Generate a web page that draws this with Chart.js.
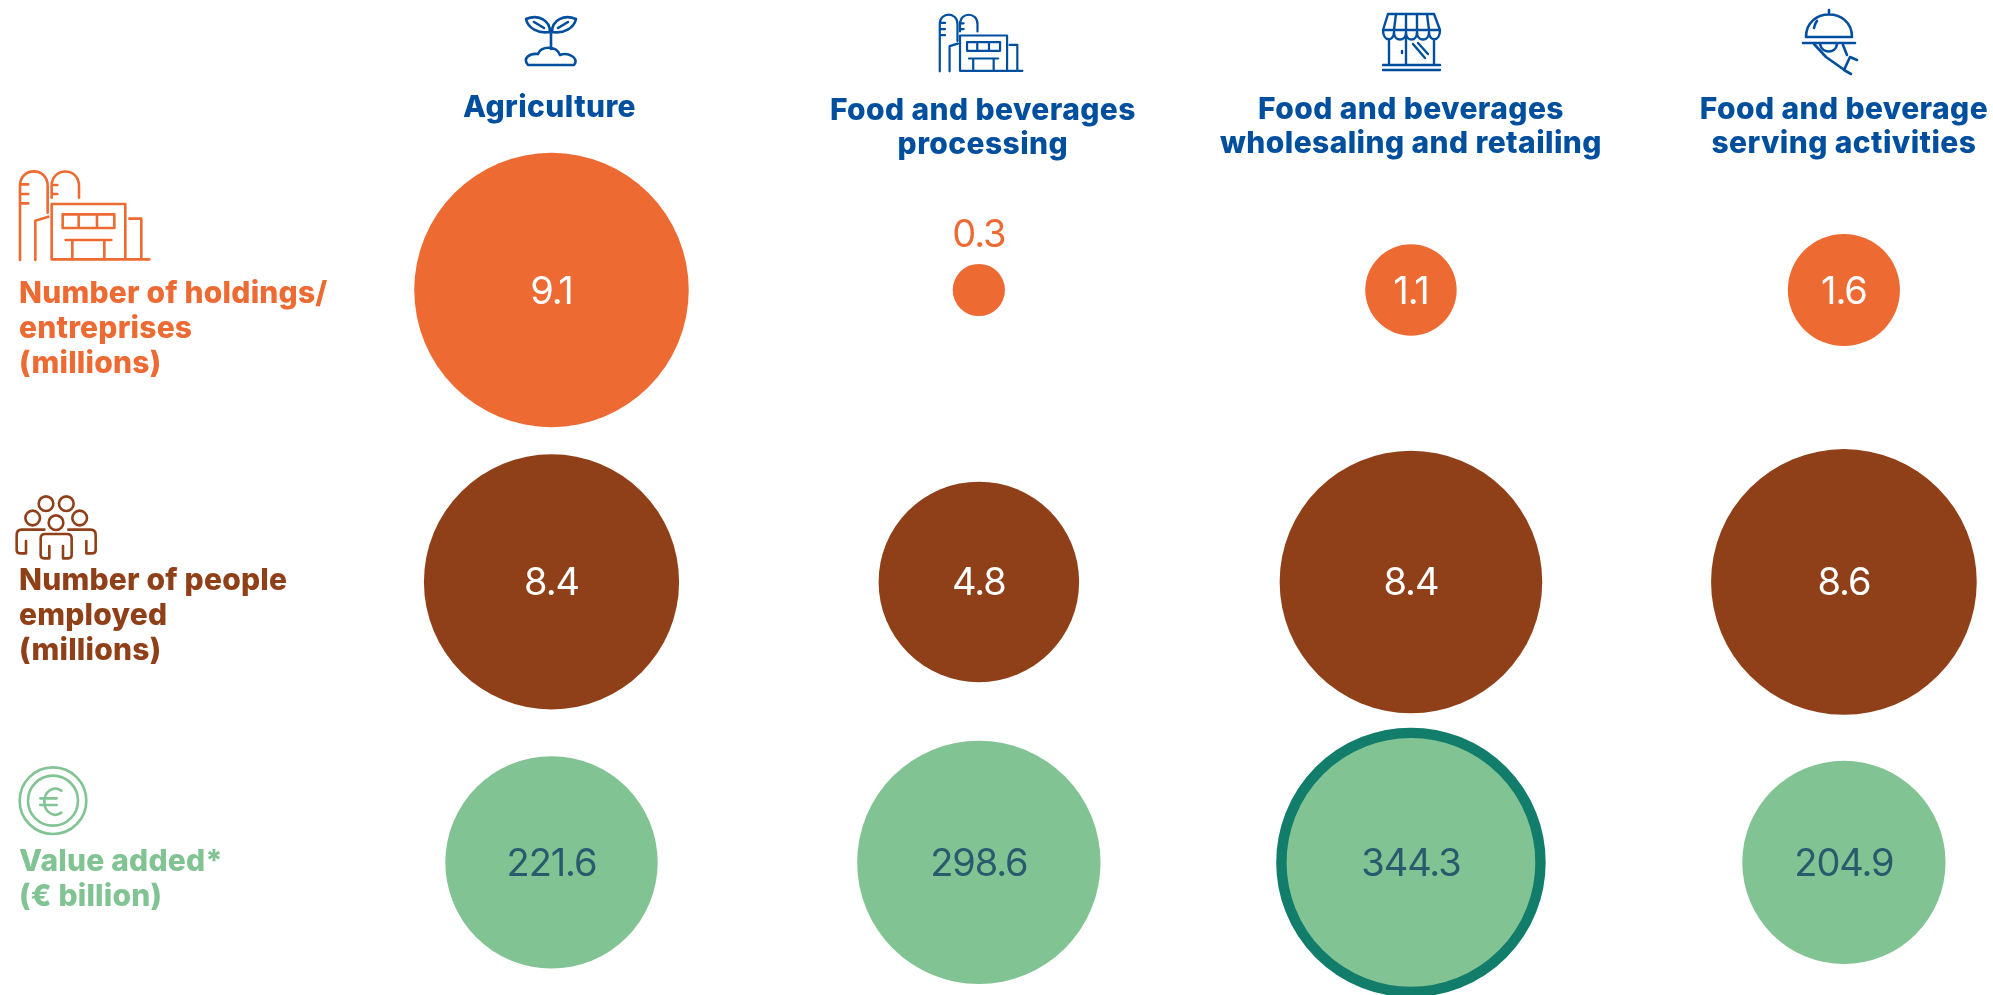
<!DOCTYPE html>
<html><head><meta charset="utf-8">
<style>html,body{margin:0;padding:0;background:#fff;overflow:hidden}canvas{display:block}</style>
<script src="https://cdn.jsdelivr.net/npm/chart.js@4"></script>
</head><body><canvas id="c" width="1993" height="995"></canvas>
<script>
// ---- data ----
const sectors = ["Agriculture","Food and beverages processing","Food and beverages wholesaling and retailing","Food and beverage serving activities"];
const sectorLines = [["Agriculture"],["Food and beverages","processing"],["Food and beverages","wholesaling and retailing"],["Food and beverage","serving activities"]];
const metrics = ["Number of holdings/entreprises (millions)","Number of people employed (millions)","Value added* (€ billion)"];
const metricLines = [["Number of holdings/","entreprises","(millions)"],["Number of people","employed","(millions)"],["Value added*","(€ billion)"]];
const holdings = [9.1,0.3,1.1,1.6];
const employed = [8.4,4.8,8.4,8.6];
const valueAdded = [221.6,298.6,344.3,204.9];
const series = [holdings,employed,valueAdded];
const highlighted = {row:2,col:2};

// ---- presentation ----
const fillCols = ["#EE6A33","#904018","#82C393"];
const labelCols = ["#EE6A33","#904018","#82C393"];
const blue = "#004F9F", teal = "#127D6B", darkText = "#2A5A6E";
const rowPlacement = [0,1.02,2];
const colPlacement = [0,0.992,1.995,3];
const areaScale = [45.5,45.3,7.1];
const radiusNudge = [[0,1.2,-2,-1.5],[-3.7,1,0,0],[0.5,-1,-2.2,0]];
const FONT = "Inter, sans-serif";

// keep the plot area edge to edge: bubbles are placed purely by the axes
Chart.registry.getController("bubble").prototype.getMaxOverflow = () => 0;

function stroke(ctx,d,col,lw,sx,sy,ox,oy){
  ctx.save();ctx.translate(ox,oy);ctx.scale(sx,sy);
  ctx.strokeStyle=col;ctx.lineWidth=lw/sx;ctx.lineCap="round";ctx.lineJoin="round";
  ctx.stroke(new Path2D(d));ctx.restore();
}
const factoryPath="M60 330V107C60 50 143 50 143 107V188M60 103H85M60 132H85M60 160H85M155 143V108C155 50 237 50 237 108V143M155 105H172M155 132H172M106 330V212L145 200M155 328V162H376V328M155 328H448M188 193H343V234H188ZM236 193V234M291 193V234M197 270H334M217 270V328M313 270V328M388 206H424V328";
const peoplePath="M160 101a22 22 0 1 0-44 0a22 22 0 1 0 44 0M221 101a22 22 0 1 0-44 0a22 22 0 1 0 44 0M120 144a22 22 0 1 0-44 0a22 22 0 1 0 44 0M261 144a22 22 0 1 0-44 0a22 22 0 1 0 44 0M190 158a22 22 0 1 0-44 0a22 22 0 1 0 44 0M133 179H65Q50 179 50 195V240Q50 250 60 250H78V213M168 192H135Q122 192 122 205V255Q122 265 132 265H148V228M168 192H201Q215 192 215 205V255Q215 265 205 265H189V228M205 179H272Q287 179 287 195V240Q287 250 277 250H259V213";
const euroPath="M259 992a100 100 0 1 0-200 0a100 100 0 1 0 200 0M234 992a75 75 0 1 0-150 0a75 75 0 1 0 150 0M184 962C160 945 133 965 133 995C133 1025 160 1045 184 1028M121 985H170M121 1005H170";
const sproutPath="M550 32C550 20 538 14 526 19C528 28 538 34 550 32ZM552 32C552 20 564 14 576 19C574 28 564 34 552 32ZM551 49V32M534 22L544 28M568 22L558 28M528 65C522 58 530 53 538 54C541 46 556 45 560 55C568 52 580 58 574 65Z";
const shopPath="M1388 14H1434L1440 30H1383ZM1383 30C1383 42 1394 42 1394 32C1394 42 1406 42 1406 32C1406 42 1417 42 1417 32C1417 42 1429 42 1429 32C1429 42 1440 42 1440 30M1396 14L1394 30M1406 14V30M1417 14V30M1427 14L1429 30M1389 40V65M1434 40V65M1406 38V65M1402 51V53M1413 44L1425 58M1418 43L1428 54M1383 65H1440M1383 70H1440";
const clochePath="M1806 37C1806 7 1852 7 1852 37ZM1829 13V10M1817 21C1815 23 1815 25 1814 28M1803 43H1855M1814 44L1826 57L1843 69M1820 44C1822 54 1836 54 1837 44M1843 45L1847 55M1857 60L1850 57L1844 70L1851 74";

const drawExtras={id:"drawExtras",afterDatasetsDraw(chart){
  const ctx=chart.ctx,xS=chart.scales.x;
  ctx.save();
  // value labels
  ctx.textBaseline="alphabetic";
  chart.data.datasets.forEach((ds,r)=>{
    chart.getDatasetMeta(r).data.forEach((el,c)=>{
      const v=series[r][c];
      ctx.font="400 38px "+FONT;ctx.letterSpacing="-1.1px";ctx.textAlign="center";
      const small=el.options.radius<30;
      ctx.fillStyle=small?fillCols[r]:(r===2?darkText:"#fff");
      ctx.fillText(v.toFixed(1),el.x,small?el.y-43:el.y+13.5);
    });
  });
  // column headers
  const headerNudge=[-2,4,0,0], headerBase=[[117],[120,154],[119,153],[119,153]];
  ctx.fillStyle=blue;ctx.font="800 30px "+FONT;ctx.letterSpacing="0.4px";ctx.textAlign="center";
  sectorLines.forEach((lines,c)=>{
    const x=xS.getPixelForValue(colPlacement[c])+headerNudge[c];
    lines.forEach((t,i)=>ctx.fillText(t,x,headerBase[c][i]));
  });
  // row headers
  const rowBase=[[303,337.5,373],[590,625,660],[871,906]];
  ctx.textAlign="left";ctx.letterSpacing="0.2px";
  metricLines.forEach((lines,r)=>{
    ctx.fillStyle=labelCols[r];
    lines.forEach((t,i)=>ctx.fillText(t,19,rowBase[r][i]));
  });
  ctx.restore();
  // icons
  stroke(ctx,factoryPath,labelCols[0],2.6,1/3,1/3,0,150);
  stroke(ctx,peoplePath,labelCols[1],2.6,1/3,1/3,0,470);
  stroke(ctx,euroPath,labelCols[2],2.6,1/3,1/3,0,470);
  stroke(ctx,factoryPath,blue,2.2,.213,.213,927,1);
  stroke(ctx,sproutPath,blue,2.6,1,1,0,0);
  stroke(ctx,shopPath,blue,2.4,1,1,0,0);
  stroke(ctx,clochePath,blue,2.6,1,1,0,0);
}};

new Chart(document.getElementById("c"),{
  type:"bubble",
  data:{datasets:series.map((vals,r)=>({
    label:metrics[r],
    data:vals.map((v,c)=>({x:colPlacement[c],y:rowPlacement[r],r:areaScale[r]*Math.sqrt(v)+radiusNudge[r][c]})),
    backgroundColor:fillCols[r],
    borderColor:vals.map((v,c)=>r===highlighted.row&&c===highlighted.col?teal:fillCols[r]),
    borderWidth:vals.map((v,c)=>r===highlighted.row&&c===highlighted.col?10.4:0),
    clip:false
  }))},
  options:{
    responsive:false,animation:false,devicePixelRatio:1,
    layout:{padding:0},
    plugins:{legend:{display:false},tooltip:{enabled:false},title:{display:false}},
    scales:{
      x:{type:"linear",display:false,min:-551.5/430.8,max:(1993-551.5)/430.8},
      y:{type:"linear",display:false,reverse:true,min:-290/286.2,max:(995-290)/286.2}
    }
  },
  plugins:[drawExtras]
});
</script></body></html>
